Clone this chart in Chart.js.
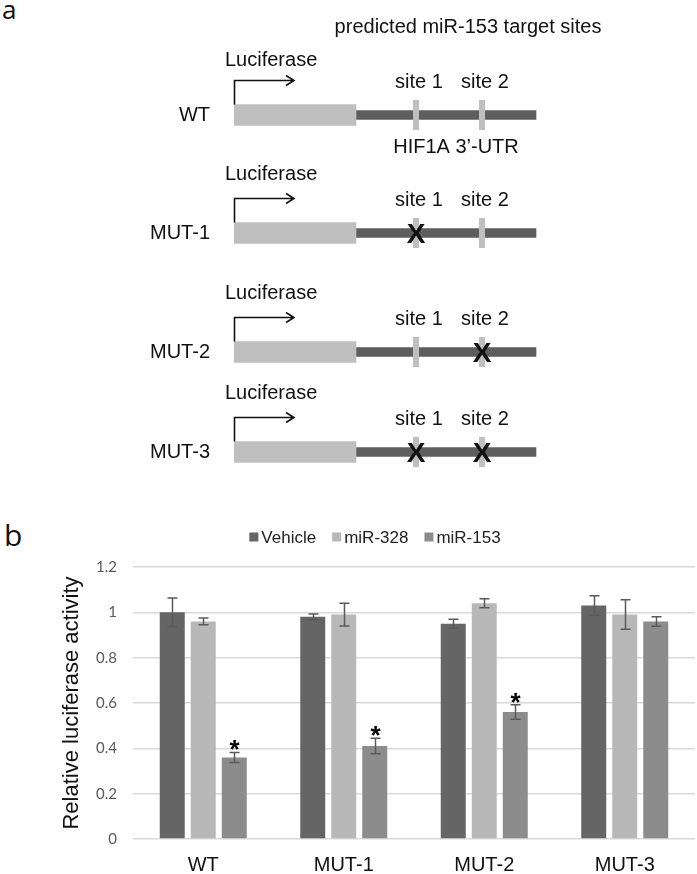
<!DOCTYPE html>
<html><head><meta charset="utf-8">
<script src="https://cdn.jsdelivr.net/npm/chart.js@4.4.1/dist/chart.umd.min.js"></script>
<style>
html,body{margin:0;padding:0;background:#fff;}
body{width:697px;height:874px;position:relative;overflow:hidden;font-family:"Liberation Sans",Arial,sans-serif;}
.wrap{position:absolute;left:0;width:697px;}
.panel{position:absolute;font-family:"Open Sans",sans-serif;color:#111;line-height:1;}
</style></head><body>
<div class="panel" style="left:2px;top:-4px;font-size:26px;">a</div>
<div class="panel" style="left:4px;top:520px;font-size:30px;">b</div>
<div class="wrap" style="top:-5.5px;height:200px"><canvas id="d0"></canvas></div>
<div class="wrap" style="top:113px;height:200px"><canvas id="d1"></canvas></div>
<div class="wrap" style="top:231.5px;height:200px"><canvas id="d2"></canvas></div>
<div class="wrap" style="top:332px;height:200px"><canvas id="d3"></canvas></div>
<div class="wrap" style="top:500px;height:374px"><canvas id="bar"></canvas></div>
<script>
// ---------- bar chart data (panel b) ----------
const categories = ['WT', 'MUT-1', 'MUT-2', 'MUT-3'];
const seriesNames = ['Vehicle', 'miR-328', 'miR-153'];
const vehicle    = [1.00, 0.98, 0.95, 1.03];
const vehicleErr = [0.063, 0.013, 0.02, 0.043];
const mir328     = [0.96, 0.99, 1.04, 0.99];
const mir328Err  = [0.015, 0.05, 0.02, 0.065];
const mir153     = [0.36, 0.41, 0.56, 0.96];
const mir153Err  = [0.022, 0.034, 0.032, 0.021];
const mir153Sig  = [true, true, true, false];
const yMin = 0, yMax = 1.2, yStep = 0.2;
const yTitle = 'Relative luciferase activity';

// ---------- schematic data (panel a) ----------
const constructs = ['WT', 'MUT-1', 'MUT-2', 'MUT-3'];
const lucSpan = [0, 122];        // luciferase ORF (schematic units)
const utrSpan = [122, 302];      // HIF1A 3'-UTR
const sitePos = [182, 248];      // predicted miR-153 sites
const siteNames = ['site 1', 'site 2'];
const mutatedSites = [[], [0], [1], [0, 1]];
const geneLabel = 'Luciferase';
const utrLabel = 'HIF1A 3\u2019-UTR';
const schemeTitle = 'predicted miR-153 target sites';

const SANS = '"Liberation Sans", Arial, sans-serif';

// ---------- schematic ----------
const diagramPlugin = {
  id: 'diagram',
  afterDatasetsDraw(chart, args, opts) {
    const r = opts.row;
    const ctx = chart.ctx, xs = chart.scales.x, ys = chart.scales.y;
    const cy = ys.getPixelForValue(0);
    const x0 = xs.getPixelForValue(lucSpan[0]);
    ctx.save();
    // site markers
    ctx.fillStyle = '#bfbfbf';
    sitePos.forEach(s => {
      const px = xs.getPixelForValue(s);
      ctx.fillRect(px - 3, cy - 15, 6, 30);
    });
    // mutation crosses
    ctx.fillStyle = '#111';
    ctx.font = 'bold 28px ' + SANS;
    ctx.textAlign = 'center';
    ctx.textBaseline = 'alphabetic';
    mutatedSites[r].forEach(k => {
      ctx.fillText('X', xs.getPixelForValue(sitePos[k]), cy + 10);
    });
    // promoter arrow
    ctx.strokeStyle = '#111';
    ctx.lineWidth = 1.6;
    ctx.beginPath();
    ctx.moveTo(x0 + 0.5, cy - 10.5);
    ctx.lineTo(x0 + 0.5, cy - 34.5);
    ctx.lineTo(x0 + 60, cy - 34.5);
    ctx.moveTo(x0 + 52, cy - 39.5);
    ctx.lineTo(x0 + 60, cy - 34.5);
    ctx.lineTo(x0 + 52, cy - 29.5);
    ctx.stroke();
    // texts
    ctx.font = '20px ' + SANS;
    ctx.fillStyle = '#111';
    ctx.textBaseline = 'middle';
    ctx.textAlign = 'left';
    ctx.fillText(geneLabel, x0 - 9, r === 0 ? cy - 55 : cy - 59);
    ctx.textAlign = 'center';
    sitePos.forEach((s, k) => {
      ctx.fillText(siteNames[k], xs.getPixelForValue(s) + 3, cy - 33);
    });
    if (r === 0) {
      ctx.fillText(utrLabel, xs.getPixelForValue(222), cy + 32.5);
      ctx.fillText(schemeTitle, xs.getPixelForValue(234), cy - 87.5);
    }
    ctx.restore();
  }
};

function makeDiagram(id, r) {
  new Chart(document.getElementById(id), {
    type: 'bar',
    data: {
      labels: [constructs[r]],
      datasets: [
        { data: [lucSpan], backgroundColor: '#bfbfbf', barThickness: 21, grouped: false },
        { data: [utrSpan], backgroundColor: '#5e5e5e', barThickness: 9, grouped: false }
      ]
    },
    options: {
      indexAxis: 'y',
      responsive: true, maintainAspectRatio: false, animation: false,
      events: [],
      layout: { padding: { top: 100, bottom: 60, left: 0, right: 0 } },
      plugins: { legend: { display: false }, tooltip: { enabled: false }, diagram: { row: r } },
      scales: {
        x: { type: 'linear', display: false, min: 0, max: 463 },
        y: {
          type: 'category',
          grid: { display: false, drawTicks: false, tickLength: 0 },
          border: { display: false },
          ticks: { font: { family: SANS, size: 20 }, color: '#111', padding: 24 },
          afterFit(s) { s.width = 234; }
        }
      }
    },
    plugins: [diagramPlugin]
  });
}
constructs.forEach((c, r) => makeDiagram('d' + r, r));

// ---------- bar chart ----------
const errorBarPlugin = {
  id: 'errbars',
  afterDatasetsDraw(chart) {
    const ctx = chart.ctx, y = chart.scales.y;
    chart.data.datasets.forEach((ds, i) => {
      const meta = chart.getDatasetMeta(i);
      meta.data.forEach((bar, j) => {
        const v = ds.data[j], e = ds.err[j];
        const x = Math.round(bar.x) + 0.5;
        const yt = y.getPixelForValue(v + e), yb = y.getPixelForValue(v - e);
        ctx.save();
        ctx.strokeStyle = '#5a5a5a';
        ctx.lineWidth = 1.5;
        ctx.beginPath();
        ctx.moveTo(x, yt); ctx.lineTo(x, yb);
        ctx.moveTo(x - 5, yt); ctx.lineTo(x + 5, yt);
        ctx.moveTo(x - 5, yb); ctx.lineTo(x + 5, yb);
        ctx.stroke();
        if (ds.sig && ds.sig[j]) {
          ctx.fillStyle = '#000';
          ctx.font = 'bold 26px ' + SANS;
          ctx.textAlign = 'center';
          ctx.textBaseline = 'alphabetic';
          ctx.fillText('*', x, yt + 6);
        }
        ctx.restore();
      });
    });
  }
};

const legendPlugin = {
  id: 'customLegend',
  afterDraw(chart) {
    const ctx = chart.ctx;
    ctx.save();
    ctx.font = '17px ' + SANS;
    const box = 9, gap = 3, space = 16;
    const items = chart.data.datasets.map(d => ({ t: d.label, c: d.backgroundColor, w: ctx.measureText(d.label).width }));
    const total = items.reduce((s, it) => s + box + gap + it.w, 0) + space * (items.length - 1);
    let x = 375 - total / 2;
    const cy = 37;
    ctx.textBaseline = 'middle';
    ctx.textAlign = 'left';
    items.forEach(it => {
      ctx.fillStyle = it.c;
      ctx.fillRect(x, cy - box / 2, box, box);
      ctx.fillStyle = '#222';
      ctx.fillText(it.t, x + box + gap, cy + 1);
      x += box + gap + it.w + space;
    });
    ctx.restore();
  }
};

new Chart(document.getElementById('bar'), {
  type: 'bar',
  data: {
    labels: categories,
    datasets: [
      { label: seriesNames[0], data: vehicle, err: vehicleErr, backgroundColor: '#656565' },
      { label: seriesNames[1], data: mir328, err: mir328Err, backgroundColor: '#b8b8b8' },
      { label: seriesNames[2], data: mir153, err: mir153Err, sig: mir153Sig, backgroundColor: '#8c8c8c' }
    ]
  },
  options: {
    responsive: true, maintainAspectRatio: false, animation: false,
    events: [],
    categoryPercentage: 0.662, barPercentage: 0.806,
    layout: { padding: { left: 59, right: 2, top: 67, bottom: 0 } },
    plugins: { legend: { display: false }, tooltip: { enabled: false } },
    scales: {
      x: {
        grid: { display: false, drawTicks: false, tickLength: 0 },
        border: { display: false },
        ticks: { font: { family: SANS, size: 20 }, color: '#111', padding: 14 },
        afterFit(s) { s.height = 35; }
      },
      y: {
        min: yMin, max: yMax,
        ticks: {
          stepSize: yStep,
          font: { family: 'Lato, "Open Sans", sans-serif', size: 15 },
          color: '#595959', padding: 16,
          callback: v => String(Math.round(v * 10) / 10)
        },
        grid: { color: '#d9d9d9', lineWidth: 1.5, drawTicks: false, tickLength: 0 },
        border: { display: false },
        title: { display: true, text: yTitle, font: { family: SANS, size: 22 }, color: '#111', padding: 0 },
        afterFit(s) { s.width = 74; }
      }
    }
  },
  plugins: [errorBarPlugin, legendPlugin]
});
</script>
</body></html>
